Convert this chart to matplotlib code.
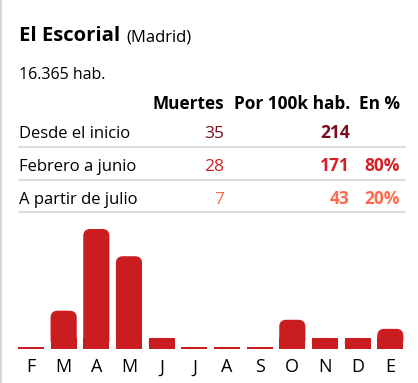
import matplotlib.pyplot as plt
import numpy as np
from matplotlib.patches import FancyBboxPatch

# datos
municipio = 'El Escorial'
provincia = '(Madrid)'
poblacion = '16.365 hab.'
columnas = ['Muertes', 'Por 100k hab.', 'En %']
filas = ['Desde el inicio', 'Febrero a junio', 'A partir de julio']
muertes = ['35', '28', '7']
por_100k = ['214', '171', '43']
porcentaje = ['', '80%', '20%']
meses = ['F', 'M', 'A', 'M', 'J', 'J', 'A', 'S', 'O', 'N', 'D', 'E']
muertes_mes = [0, 4, 13, 10, 1, 0, 0, 0, 3, 1, 1, 2]

colores_fila = ['#7b0c1c', '#d42027', '#fe6a4d']
rojo = '#c91d1f'
gris = '#dcdcdc'

plt.rcParams['font.family'] = ['Open Sans', 'DejaVu Sans']

W, H = 418, 383
fig = plt.figure(figsize=(W / 100, H / 100), dpi=100)


def px(x, y):
    # pixeles (desde arriba) -> coordenadas de figura
    return x / W, 1 - y / H


# borde izquierdo
fig.add_artist(plt.Line2D([1 / W, 1 / W], [0, 1], color='#d8d8d8', lw=1.5))

# titulo
t = fig.text(*px(19, 41), municipio, fontsize=14.6, fontweight='bold', va='baseline')
fig.canvas.draw()
bb = t.get_window_extent()
fig.text(bb.x1 / W + 6 / W, 1 - 41 / H, provincia, fontsize=12, va='baseline')

fig.text(*px(19, 79), poblacion, fontsize=11.5, va='baseline')

# tabla
col_x = [224, 350, 400]
fila_y = [138, 171, 204]
linea_y = [147, 180, 212]
for j in range(len(columnas)):
    fig.text(*px(col_x[j], 109), columnas[j], fontsize=12.4, fontweight='bold', ha='right', va='baseline')

for i in range(len(filas)):
    y = fila_y[i]
    c = colores_fila[i]
    fig.text(*px(19, y), filas[i], fontsize=12, va='baseline')
    fig.text(*px(col_x[0], y), muertes[i], fontsize=12.5, color=c, ha='right', va='baseline')
    fig.text(*px(col_x[1], y), por_100k[i], fontsize=12.5, color=c, fontweight='bold', ha='right', va='baseline')
    fig.text(*px(col_x[2], y), porcentaje[i], fontsize=12.5, color=c, fontweight='bold', ha='right', va='baseline')
    x0, yy = px(19, linea_y[i])
    x1, _ = px(405, linea_y[i])
    fig.add_artist(plt.Line2D([x0, x1], [yy, yy], color=gris, lw=1.5))

# barras
ax = fig.add_axes([14.65 / W, 33 / H, 392 / W, 121 / H])
x = np.arange(len(meses))
ancho = 0.8
unidad = 121 / 13.33  # px por muerte
ax.set_xlim(-0.5, len(meses) - 0.5)
ax.set_ylim(-0.33, 13)

barras = ax.bar(x, muertes_mes, width=ancho, color=rojo)
ax.bar(x, 0.2, bottom=-0.2, width=ancho, color=rojo)

# esquinas redondeadas arriba
px_x = 392 / 12  # px por unidad x
r = 7 / px_x
for b in barras:
    h = b.get_height()
    if h <= 0:
        continue
    b.set_visible(False)
    x0 = b.get_x()
    w = b.get_width()
    asp = px_x / unidad
    p = FancyBboxPatch((x0, 0), w, h, boxstyle='round,pad=0,rounding_size=%f' % r,
                       mutation_aspect=asp, fc=rojo, ec='none')
    ax.add_patch(p)
    ax.add_patch(plt.Rectangle((x0, 0), w, min(h, 1), fc=rojo, ec='none'))

ax.set_xticks(x)
ax.set_xticklabels(meses, fontsize=13)
ax.tick_params(axis='x', length=0, pad=6)
ax.set_yticks([])
for s in ax.spines.values():
    s.set_visible(False)

fig.savefig('out.png', dpi=100)
